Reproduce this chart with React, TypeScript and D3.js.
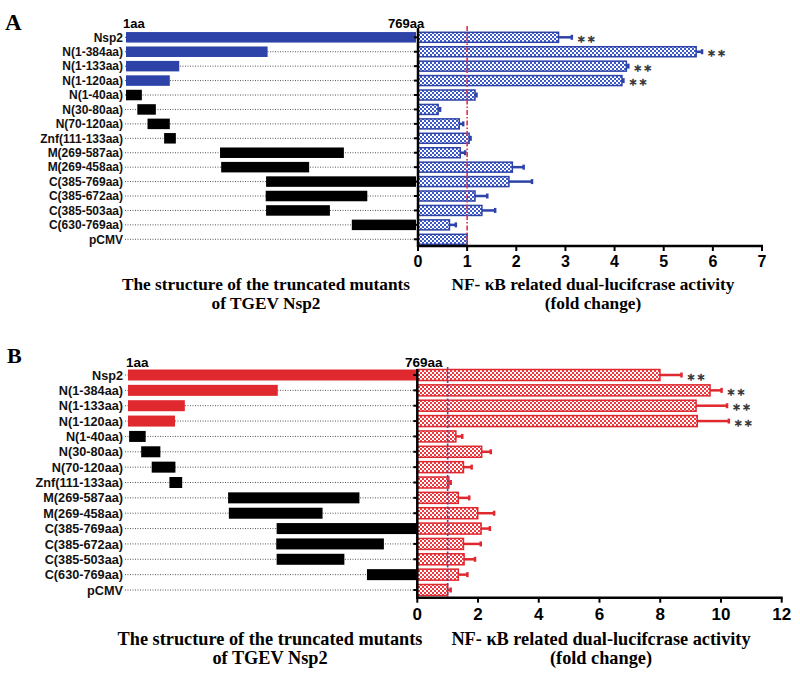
import React from "react";
import * as d3 from "d3";

const constructs = [
  "Nsp2", "N(1-384aa)", "N(1-133aa)", "N(1-120aa)", "N(1-40aa)", "N(30-80aa)",
  "N(70-120aa)", "Znf(111-133aa)", "M(269-587aa)", "M(269-458aa)", "C(385-769aa)",
  "C(385-672aa)", "C(385-503aa)", "C(630-769aa)", "pCMV",
];
const isColored = [true, true, true, true, false, false, false, false, false, false, false, false, false, false, false];

// drawn extents of the schematic bars (aa units)
const structStartA = [1, 1, 1, 1, 1, 31, 58, 102, 250, 253, 372, 371, 372, 599, null];
const structEndA = [769, 376, 142, 117, 43, 80, 117, 133, 578, 486, 769, 640, 541, 769, null];
const structStartB = [1, 1, 1, 1, 4, 36, 64, 111, 267, 269, 396, 395, 396, 636, null];
const structEndB = [769, 399, 152, 126, 48, 87, 127, 145, 616, 518, 769, 681, 576, 769, null];

// NF-kB fold change
const activityA = [2.86, 5.66, 4.24, 4.15, 1.16, 0.41, 0.84, 1.04, 0.86, 1.92, 1.85, 1.16, 1.3, 0.64, 1.0];
const errorA = [0.27, 0.12, 0.04, 0.03, 0.03, 0.04, 0.08, 0.03, 0.1, 0.23, 0.47, 0.25, 0.27, 0.13, 0];
const sigA = [true, true, true, true, false, false, false, false, false, false, false, false, false, false, false];

const activityB = [7.99, 9.64, 9.18, 9.22, 1.27, 2.12, 1.52, 1.04, 1.35, 1.99, 2.1, 1.52, 1.54, 1.35, 1.0];
const errorB = [0.71, 0.38, 1.02, 1.04, 0.21, 0.3, 0.27, 0.06, 0.36, 0.54, 0.29, 0.57, 0.36, 0.3, 0.1];
const sigB = [true, true, true, true, false, false, false, false, false, false, false, false, false, false, false];

const ticksA = [0, 1, 2, 3, 4, 5, 6, 7];
const ticksB = [0, 2, 4, 6, 8, 10, 12];

const SANS = "'Liberation Sans', Arial, sans-serif";
const SERIF = "'Liberation Serif', 'Times New Roman', serif";

type PanelCfg = {
  id: string;
  letter: string;
  letterX: number;
  letterY: number;
  letterSize: number;
  rowTop: number;
  rowBottom: number;
  aaX0: number;
  aaX1: number;
  axisX: number;
  xEndPx: number;
  xMax: number;
  ticks: number[];
  axisTop: number;
  axisBottom: number;
  barH: number;
  structH: number;
  labelX: number;
  labelSize: number;
  aaLabelY: number;
  aa1X: number;
  aa769X: number;
  aaSize: number;
  tickBaseline: number;
  tickSize: number;
  title1Y: number;
  title2Y: number;
  titleSize: number;
  leftTitleX: number;
  rightTitleX: number;
  color: string;
  fillColor: string;
  refColor: string;
  refDash: string;
  starts: (number | null)[];
  ends: (number | null)[];
  values: number[];
  errors: number[];
  sig: boolean[];
};

const panels: PanelCfg[] = [
  {
    id: "A", letter: "A", letterX: 5, letterY: 30, letterSize: 23,
    rowTop: 37.3, rowBottom: 239.3, aaX0: 126, aaX1: 416, axisX: 418, xEndPx: 762, xMax: 7,
    ticks: ticksA, axisTop: 28, axisBottom: 246, barH: 10, structH: 10.5,
    labelX: 123, labelSize: 12, aaLabelY: 28, aa1X: 123, aa769X: 388, aaSize: 13,
    tickBaseline: 266.5, tickSize: 16, title1Y: 290, title2Y: 309, titleSize: 17.3,
    leftTitleX: 266, rightTitleX: 593,
    color: "#2d43a8", fillColor: "#3c5ac8", refColor: "#e0334a", refDash: "5,2,1.5,2",
    starts: structStartA, ends: structEndA, values: activityA, errors: errorA, sig: sigA,
  },
  {
    id: "B", letter: "B", letterX: 7, letterY: 363, letterSize: 22,
    rowTop: 375, rowBottom: 590, aaX0: 128, aaX1: 417, axisX: 417.3, xEndPx: 781.7, xMax: 12,
    ticks: ticksB, axisTop: 369, axisBottom: 597.7, barH: 11, structH: 11,
    labelX: 123, labelSize: 12.7, aaLabelY: 366.5, aa1X: 126, aa769X: 405, aaSize: 13.5,
    tickBaseline: 620, tickSize: 17, title1Y: 645, title2Y: 664, titleSize: 18.3,
    leftTitleX: 270, rightTitleX: 601,
    color: "#e0282f", fillColor: "#ec3a40", refColor: "#4b47a6", refDash: "2.5,2",
    starts: structStartB, ends: structEndB, values: activityB, errors: errorB, sig: sigB,
  },
];

function Panel({ p }: { p: PanelCfg }) {
  const y = d3.scalePoint<string>().domain(constructs).range([p.rowTop, p.rowBottom]);
  const aa = d3.scaleLinear().domain([1, 769]).range([p.aaX0, p.aaX1]);
  const x = d3.scaleLinear().domain([0, p.xMax]).range([p.axisX, p.xEndPx]);
  const patId = `chk${p.id}`;
  return (
    <g>
      <defs>
        <pattern id={patId} width={4} height={4} patternUnits="userSpaceOnUse">
          <rect width={4} height={4} fill="#ffffff" />
          <rect x={0} y={0} width={2} height={2} fill={p.fillColor} />
          <rect x={2} y={2} width={2} height={2} fill={p.fillColor} />
        </pattern>
      </defs>
      <text x={p.letterX} y={p.letterY} fontFamily={SERIF} fontWeight="bold" fontSize={p.letterSize}>{p.letter}</text>
      <text x={p.aa1X} y={p.aaLabelY} fontFamily={SANS} fontWeight="bold" fontSize={p.aaSize}>1aa</text>
      <text x={p.aa769X} y={p.aaLabelY} fontFamily={SANS} fontWeight="bold" fontSize={p.aaSize}>769aa</text>

      {constructs.map((c, i) => {
        const cy = y(c)!;
        return (
          <g key={c}>
            <line x1={p.labelX + 2} x2={p.axisX} y1={cy} y2={cy} stroke="#555" strokeWidth={1} strokeDasharray="1,1.5" />
            <text x={p.labelX} y={cy + p.labelSize * 0.36} textAnchor="end" fontFamily={SANS} fontWeight="bold" fontSize={p.labelSize} fill="#111">{c}</text>
            {p.starts[i] != null && (
              <rect
                x={aa(p.starts[i] as number)}
                y={cy - p.structH / 2}
                width={aa(p.ends[i] as number) - aa(p.starts[i] as number)}
                height={p.structH}
                fill={isColored[i] ? p.color : "#000"}
              />
            )}
            <line x1={p.axisX - 4} x2={p.axisX} y1={cy} y2={cy} stroke="#000" strokeWidth={2} />
          </g>
        );
      })}

      {constructs.map((c, i) => {
        const cy = y(c)!;
        const v = p.values[i];
        const e = p.errors[i];
        return (
          <g key={`b${c}`}>
            {e > 0 && (
              <g>
                <line x1={x(v)} x2={x(v + e)} y1={cy} y2={cy} stroke={p.color} strokeWidth={2.5} />
                <line x1={x(v + e)} x2={x(v + e)} y1={cy - 2.5} y2={cy + 2.5} stroke={p.color} strokeWidth={2.5} />
              </g>
            )}
            <rect x={x(0)} y={cy - p.barH / 2} width={x(v) - x(0)} height={p.barH} fill={`url(#${patId})`} stroke={p.color} strokeWidth={1.5} />
            {p.sig[i] && (
              <text x={x(v + e) + 6} y={cy + 8.5} fontFamily="'DejaVu Sans', sans-serif" fontSize={14} fill="#3a3a3a" stroke="#3a3a3a" strokeWidth={0.6} letterSpacing={3}>**</text>
            )}
          </g>
        );
      })}

      <line x1={x(1)} x2={x(1)} y1={p.axisTop - 2} y2={p.axisBottom} stroke={p.refColor} strokeWidth={1.6} strokeDasharray={p.refDash} />

      <line x1={p.axisX} x2={p.axisX} y1={p.axisTop} y2={p.axisBottom + 1} stroke="#000" strokeWidth={2.5} />
      <line x1={p.axisX - 1} x2={p.xEndPx + 1} y1={p.axisBottom} y2={p.axisBottom} stroke="#000" strokeWidth={2.5} />
      {p.ticks.map((t) => (
        <g key={`t${t}`}>
          <line x1={x(t)} x2={x(t)} y1={p.axisBottom} y2={p.axisBottom + 5} stroke="#000" strokeWidth={2} />
          <text x={x(t)} y={p.tickBaseline} textAnchor="middle" fontFamily={SANS} fontWeight="bold" fontSize={p.tickSize}>{t}</text>
        </g>
      ))}

      <text x={p.leftTitleX} y={p.title1Y} textAnchor="middle" fontFamily={SERIF} fontWeight="bold" fontSize={p.titleSize}>The structure of the truncated mutants</text>
      <text x={p.leftTitleX} y={p.title2Y} textAnchor="middle" fontFamily={SERIF} fontWeight="bold" fontSize={p.titleSize}>of TGEV Nsp2</text>
      <text x={p.rightTitleX} y={p.title1Y} textAnchor="middle" fontFamily={SERIF} fontWeight="bold" fontSize={p.titleSize}>NF- κB related dual-lucifcrase activity</text>
      <text x={p.rightTitleX} y={p.title2Y} textAnchor="middle" fontFamily={SERIF} fontWeight="bold" fontSize={p.titleSize}>(fold change)</text>
    </g>
  );
}

export default function App() {
  return (
    <svg width={800} height={683} viewBox="0 0 800 683" style={{ position: "absolute", left: 0, top: 0, background: "#fff" }}>
      <rect width={800} height={683} fill="#fff" />
      {panels.map((p) => (
        <Panel key={p.id} p={p} />
      ))}
    </svg>
  );
}
